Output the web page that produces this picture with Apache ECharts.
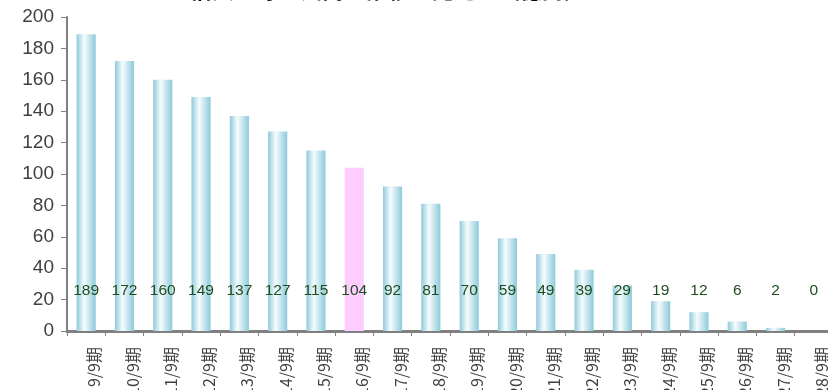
<!DOCTYPE html>
<html>
<head>
<meta charset="utf-8">
<script src="https://cdn.jsdelivr.net/npm/echarts@6/dist/echarts.min.js"></script>
<style>
  html, body { margin: 0; padding: 0; background: #fff; }
  #chart { width: 828px; height: 390px; }
</style>
</head>
<body>
<div id="chart"></div>
<script>
var categories = ['9/9期', '10/9期', '11/9期', '12/9期', '13/9期', '14/9期', '15/9期', '16/9期', '17/9期', '18/9期',
  '19/9期', '20/9期', '21/9期', '22/9期', '23/9期', '24/9期', '25/9期', '26/9期', '27/9期', '28/9期'];
var values = [189, 172, 160, 149, 137, 127, 115, 104, 92, 81, 70, 59, 49, 39, 29, 19, 12, 6, 2, 0];
var highlightIndex = 7; // 16/9期
var titleText = '借入金等の残高の推移と見通し（億円）';

var chartDom = document.getElementById('chart');
var myChart = echarts.init(chartDom);

var barGradient = new echarts.graphic.LinearGradient(0, 0, 1, 0, [
  { offset: 0, color: '#8fcadb' },
  { offset: 0.4, color: '#f6fcfd' },
  { offset: 1, color: '#8ccada' }
]);

var data = values.map(function (v, i) {
  if (i === highlightIndex) {
    return { value: v, itemStyle: { color: '#ffccff' } };
  }
  return v;
});

var option = {
  animation: false,
  title: {
    text: titleText,
    left: 185,
    top: -26,
    textStyle: { fontSize: 22, fontWeight: 'bold', color: '#000', fontFamily: 'Noto Sans CJK JP' }
  },
  grid: { left: 67, right: -5, top: 17, bottom: 59, containLabel: false, outerBoundsMode: 'none' },
  xAxis: {
    type: 'category',
    data: categories,
    axisLine: { lineStyle: { color: '#808080', width: 3 } },
    axisTick: { show: true, length: 5, lineStyle: { color: '#808080' } },
    axisLabel: {
      rotate: 90,
      interval: 0,
      margin: 16,
      fontSize: 16,
      verticalAlign: 'top',
      color: '#404040',
      fontFamily: 'Noto Sans CJK JP'
    }
  },
  yAxis: {
    type: 'value',
    min: 0,
    max: 200,
    interval: 20,
    splitLine: { show: false },
    axisLine: { show: true, lineStyle: { color: '#808080', width: 2 } },
    axisTick: { show: true, length: 6, lineStyle: { color: '#808080' } },
    axisLabel: { fontSize: 19, color: '#404040', margin: 13, fontFamily: 'Liberation Sans' }
  },
  series: [{
    type: 'bar',
    data: data,
    barWidth: '50%',
    itemStyle: { color: barGradient },
    label: {
      show: true,
      position: 'insideBottom',
      distance: 32,
      fontSize: 15.5,
      color: '#1e4d1e',
      fontFamily: 'Liberation Sans'
    }
  }]
};

option && myChart.setOption(option);
</script>
</body>
</html>
